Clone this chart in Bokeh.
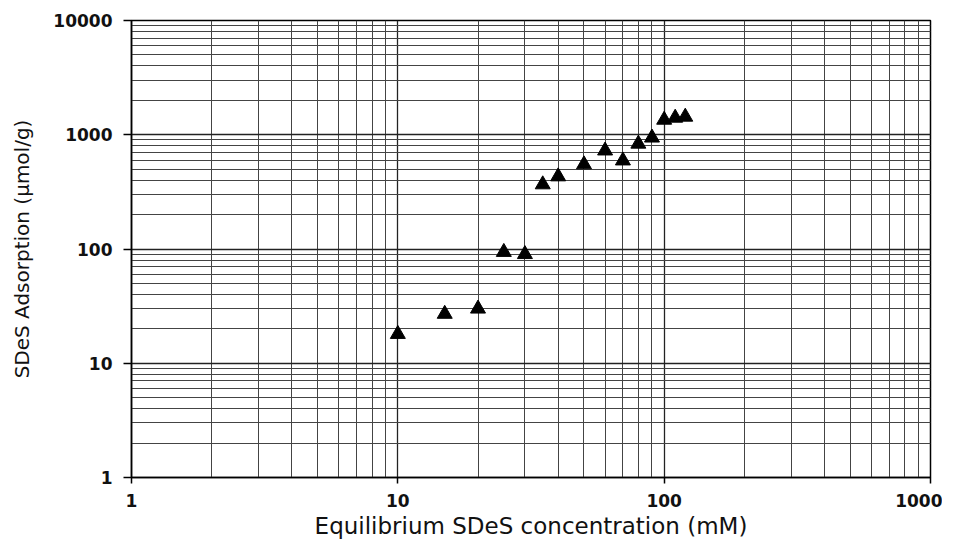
from bokeh.plotting import figure
from bokeh.models import FixedTicker, PrintfTickFormatter, Range1d
from bokeh.embed import file_html
from bokeh.resources import INLINE

# Data
conc_mM = [10, 15, 20, 25, 30, 35, 40, 50, 60, 70, 80, 90, 100, 110, 120]
adsorption = [18, 27, 30, 94, 90, 367, 431, 549, 726, 594, 833, 942, 1350, 1406, 1435]

x_ticks = [1, 10, 100, 1000]
y_ticks = [1, 10, 100, 1000, 10000]
x_minor = [m * d for d in [1, 10, 100] for m in range(2, 10)]
y_minor = [m * d for d in [1, 10, 100, 1000] for m in range(2, 10)]

FONT = "DejaVu Sans"

p = figure(width=942, height=541, x_axis_type="log", y_axis_type="log",
           x_range=Range1d(1, 1000), y_range=Range1d(1, 10000),
           output_backend="svg", toolbar_location=None,
           min_border_left=131, min_border_right=12, min_border_top=20, min_border_bottom=64)

p.scatter(conc_mM, adsorption, marker="triangle", size=15, color="black")

p.xaxis.ticker = FixedTicker(ticks=x_ticks, minor_ticks=x_minor)
p.yaxis.ticker = FixedTicker(ticks=y_ticks, minor_ticks=y_minor)
p.xaxis.formatter = PrintfTickFormatter(format="%d")
p.yaxis.formatter = PrintfTickFormatter(format="%d")

for ax in (p.xaxis, p.yaxis):
    ax.axis_line_color = "black"
    ax.axis_line_width = 1.5
    ax.major_tick_in = 0
    ax.major_tick_line_color = "black"
    ax.major_tick_line_width = 1.5
    ax.minor_tick_in = 0
    ax.minor_tick_out = 0
    ax.major_label_text_font = FONT
    ax.major_label_text_font_style = "bold"
    ax.major_label_text_font_size = "17px"
    ax.major_label_text_color = "#111111"
    ax.axis_label_text_font = FONT
    ax.axis_label_text_font_style = "normal"
    ax.axis_label_text_color = "#111111"

p.xaxis.major_tick_out = 6
p.yaxis.major_tick_out = 8
p.xaxis.axis_label = "Equilibrium SDeS concentration (mM)"
p.yaxis.axis_label = "SDeS Adsorption (μmol/g)"
p.xaxis.axis_label_text_font_size = "23px"
p.yaxis.axis_label_text_font_size = "20px"
p.xaxis.major_label_standoff = 10
p.yaxis.major_label_standoff = 11
p.xaxis.axis_label_standoff = 3
p.yaxis.axis_label_standoff = 16

for g in (p.xgrid, p.ygrid):
    g.grid_line_color = "#222222"
    g.grid_line_width = 1.3
    g.minor_grid_line_color = "#444444"
    g.minor_grid_line_width = 1.0

p.outline_line_color = "black"
p.outline_line_width = 1.5

open("out.html", "w").write(file_html(p, INLINE))
